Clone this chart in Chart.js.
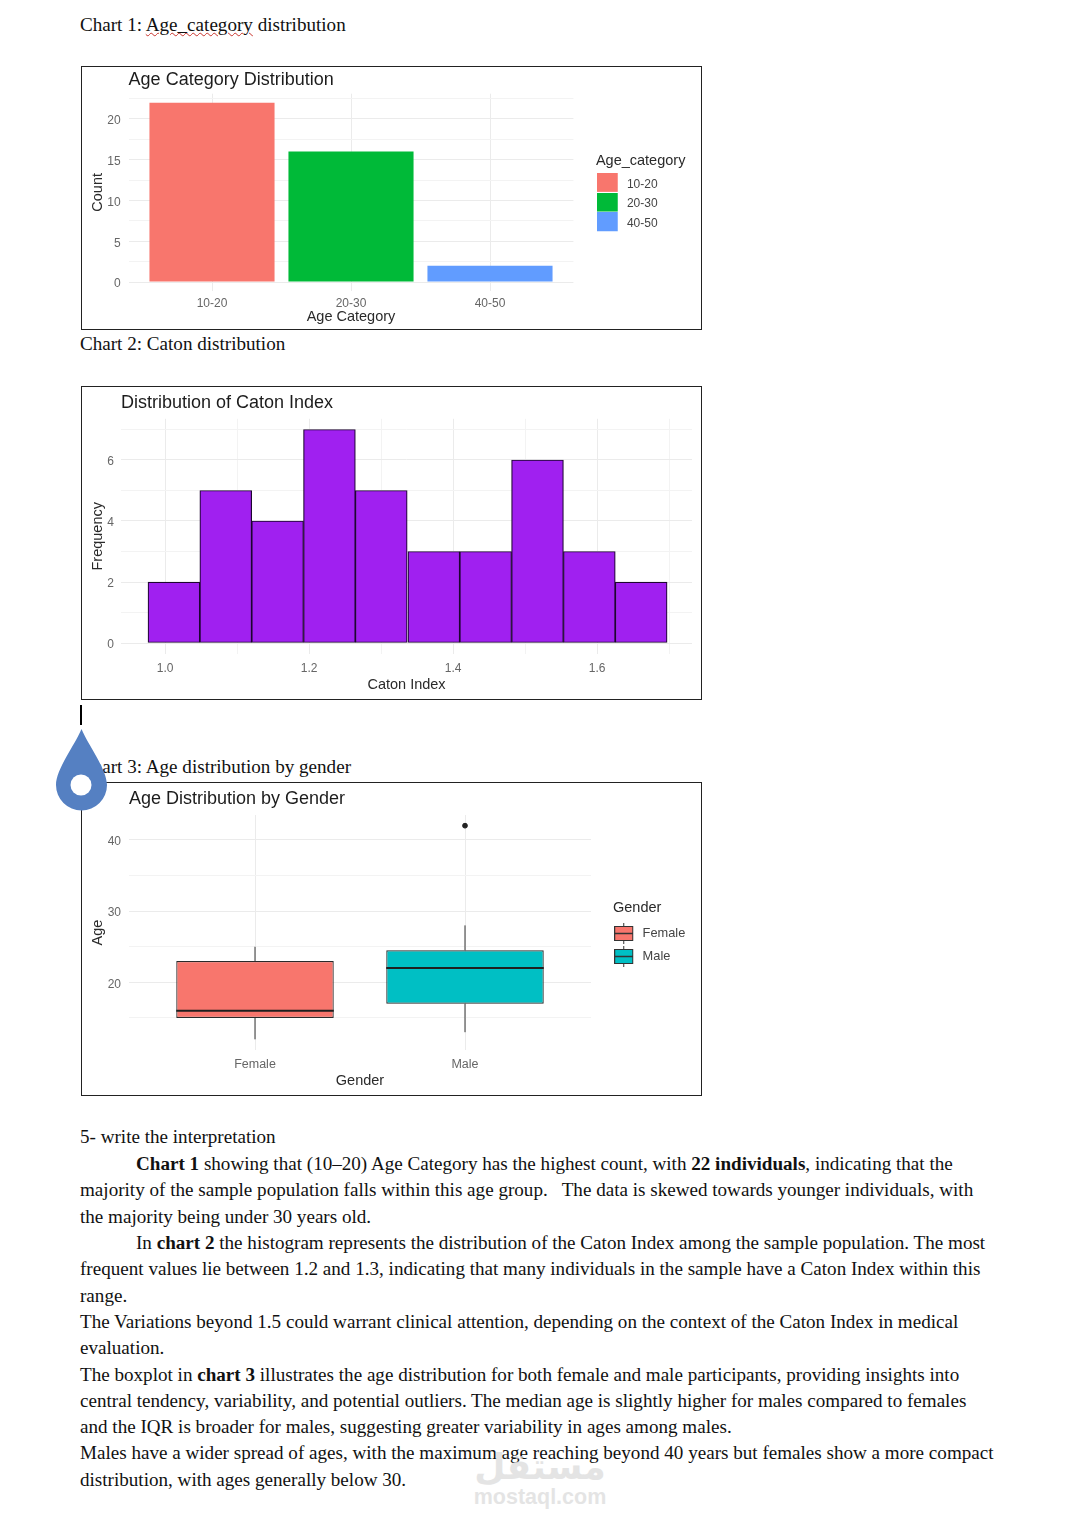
<!DOCTYPE html>
<html><head><meta charset="utf-8">
<script src="https://cdn.jsdelivr.net/npm/chart.js@4"></script>
<style>
html,body{margin:0;padding:0;background:#fff;width:1080px;height:1539px;overflow:hidden}
.l{position:absolute;white-space:nowrap;font:19.1px/22px "Liberation Serif",serif;color:#111;transform:translateY(-50%)}
.box{position:absolute;left:81px;width:619px;border:1px solid #222}
canvas{position:absolute;left:81px}
.wm{position:absolute;color:#dcdcdc;opacity:.75;white-space:nowrap;transform:translate(-50%,-50%);font-weight:bold}
</style></head><body>
<div class="l" style="left:80px;top:25px">Chart 1: <span style="text-decoration:underline wavy #c8332c 1.4px;text-underline-offset:1px">Age_category</span> distribution</div>
<div class="box" style="top:66px;height:262px"></div><canvas id="c1" width="621" height="264" style="top:66px"></canvas>
<div class="l" style="left:80px;top:344px">Chart 2: Caton distribution</div>
<div class="box" style="top:386px;height:312px"></div><canvas id="c2" width="621" height="314" style="top:386px"></canvas>
<div style="position:absolute;left:80px;top:705px;width:2px;height:20px;background:#000"></div>
<div class="l" style="left:80px;top:767px">Chart 3: Age distribution by gender</div>
<div class="box" style="top:782px;height:312px"></div><canvas id="c3" width="621" height="314" style="top:782px"></canvas>
<svg style="position:absolute;left:56px;top:729px" width="52" height="82" viewBox="0 0 52 82"><path d="M25.5 0 C32 16 51 40 51 56 A25.5 25.5 0 0 1 0 56 C0 40 19 16 25.5 0Z" fill="#5580c2"/><circle cx="25" cy="56" r="10.5" fill="#fff"/></svg>
<div id="text"></div>
<div class="wm" style="left:540px;top:1466px;font:bold 36px 'DejaVu Sans'">مستقل</div>
<div class="wm" style="left:540px;top:1497px;font:bold 21.5px 'Liberation Sans'">mostaql.com</div>
<script>
// ---------- data ----------
const ageCategories = ['10-20','20-30','40-50'];
const ageCounts = [22,16,2];
const ageColors = ['#F8766D','#00BA38','#619CFF'];
const ageYTicks = [0,2.5,5,7.5,10,12.5,15,17.5,20,22.5];
const ageYLabels = [0,5,10,15,20];

const catonCenters = [1.011,1.083,1.155,1.227,1.299,1.372,1.444,1.516,1.588,1.660];
const catonFreq = [2,5,4,7,5,3,3,6,3,2];
const catonXTicks = [1.0,1.1,1.2,1.3,1.4,1.5,1.6,1.7];
const catonXLabels = [1.0,1.2,1.4,1.6];
const catonYTicks = [0,1,2,3,4,5,6,7];
const catonYLabels = [0,2,4,6];

const genders = ['Female','Male'];
const genderColors = ['#F8766D','#00BFC4'];
const whiskerLow = [12,13];
const q1 = [15,17];
const median = [16,22];
const q3 = [23,24.5];
const whiskerHigh = [25,28];
const outlierGender = [2];
const outlierAge = [42];
const boxYTicks = [15,20,25,30,35,40];
const boxYLabels = [20,30,40];

const bodyLines = [
 [80,1137,'5- write the interpretation'],
 [136,1164,'<b>Chart 1</b> showing that (10–20) Age Category has the highest count, with <b>22 individuals</b>, indicating that the'],
 [80,1190,'majority of the sample population falls within this age group.&nbsp;&nbsp; The data is skewed towards younger individuals, with'],
 [80,1217,'the majority being under 30 years old.'],
 [136,1243,'In <b>chart 2</b> the histogram represents the distribution of the Caton Index among the sample population. The most'],
 [80,1269,'frequent values lie between 1.2 and 1.3, indicating that many individuals in the sample have a Caton Index within this'],
 [80,1296,'range.'],
 [80,1322,'The Variations beyond 1.5 could warrant clinical attention, depending on the context of the Caton Index in medical'],
 [80,1348,'evaluation.'],
 [80,1375,'The boxplot in <b>chart 3</b> illustrates the age distribution for both female and male participants, providing insights into'],
 [80,1401,'central tendency, variability, and potential outliers. The median age is slightly higher for males compared to females'],
 [80,1427,'and the IQR is broader for males, suggesting greater variability in ages among males.'],
 [80,1453,'Males have a wider spread of ages, with the maximum age reaching beyond 40 years but females show a more compact'],
 [80,1480,'distribution, with ages generally below 30.']
];
// ---------- page text ----------
document.getElementById('text').innerHTML = bodyLines.map(l=>`<div class="l" style="left:${l[0]}px;top:${l[1]}px">${l[2]}</div>`).join('');

// ---------- chart helpers ----------
Chart.defaults.font.family = '"Liberation Sans", Arial, sans-serif';
Chart.defaults.animation = false;
const MAJOR='#ebebeb', MINOR='#f3f3f3', TICK='#666', INK='#2a2a2a';

function axis(o){
  return {
    type:'linear', min:o.min, max:o.max, offset:false,
    border:{display:false},
    grid:{offset:false, drawTicks:false, tickLength:0,
      color:c=>o.labels.includes(c.tick&&c.tick.value)?MAJOR:MINOR,
      lineWidth:1},
    ticks:{autoSkip:false, maxRotation:0, minRotation:0, padding:o.pad, color:TICK, font:{size:o.fs||12},
      labelOffset:o.lo||0, callback:o.fmt},
    afterBuildTicks:s=>{s.ticks=o.ticks.map(v=>({value:v}));},
    afterFit:s=>{ if(o.size.w) s.width=o.size.w; if(o.size.h) s.height=o.size.h; },
    title:{display:true,text:o.title,color:INK,font:{size:14.5},padding:o.titlePad}
  };
}
function legendShift(gutter,gap){
  return {
    id:'legendPlace',
    beforeLayout(ch){
      const l=ch.legend;
      if(l&&!l.__p){const f=l.fit; l.fit=function(){f.call(this); this.width=gutter;}; l.__p=true;}
    },
    afterLayout(ch){
      const l=ch.legend; if(!l) return;
      l.left=ch.chartArea.right+gap; l.right=l.left+gutter;
    }
  };
}
function swatch(w,h,drawFn){
  const c=document.createElement('canvas'); c.width=w; c.height=h;
  drawFn(c.getContext('2d')); return c;
}
function title(text,size,top,bottom){
  return {display:true,text,align:'start',fullSize:false,color:'#1c1c1c',
    font:{size,weight:'normal'},padding:{top,bottom}};
}

// ---------- chart 1 ----------
new Chart(document.getElementById('c1'),{
  type:'bar',
  data:{datasets:[{data:ageCounts.map((v,i)=>({x:i+1,y:v})),backgroundColor:ageColors,
    barPercentage:.9,categoryPercentage:1}]},
  plugins:[legendShift(128.6,22.5)],
  options:{responsive:false,devicePixelRatio:1,
    layout:{padding:0},
    plugins:{
      tooltip:{enabled:false},
      title:title('Age Category Distribution',18,3.2,2.9),
      legend:{position:'right',fullSize:false,align:'center',
        title:{display:true,text:'Age_category',position:'start',color:INK,font:{size:14.5},padding:{top:6,bottom:0}},
        labels:{color:'#444',font:{size:12},padding:7.7,usePointStyle:true,pointStyleWidth:17.3,
          generateLabels:()=>ageCategories.map((t,i)=>({text:t,fontColor:'#444',datasetIndex:0,index:i,
            pointStyle:swatch(31,23,g=>{g.fillStyle=ageColors[i];g.fillRect(0,0,21,19);})}))}}
    },
    scales:{
      x:axis({min:.4,max:3.6,ticks:[1,2,3],labels:[1,2,3],pad:5,fmt:v=>ageCategories[v-1],
        size:{h:39},title:'Age Category',titlePad:{top:0,bottom:4.3}}),
      y:axis({min:-1.1,max:23.1,ticks:ageYTicks,labels:ageYLabels,pad:8,lo:2,fmt:v=>ageYLabels.includes(v)?v:'',
        size:{w:47.6},title:'Count',titlePad:{top:8.6,bottom:0}})
    }
  }
});

// ---------- chart 2 ----------
new Chart(document.getElementById('c2'),{
  type:'bar',
  data:{datasets:[{data:catonCenters.map((x,i)=>({x,y:catonFreq[i]})),backgroundColor:'#A020F0',
    borderColor:'#1d0530',borderWidth:1.2,borderSkipped:false,barPercentage:1,categoryPercentage:1}]},
  options:{responsive:false,devicePixelRatio:1,
    layout:{padding:{right:10}},
    plugins:{tooltip:{enabled:false},legend:{display:false},
      title:title('Distribution of Caton Index',18,6.2,5)},
    scales:{
      x:axis({min:.9375,max:1.7306,ticks:catonXTicks,labels:catonXLabels,pad:8,lo:-.8,
        fmt:v=>catonXLabels.includes(v)?v.toFixed(1):'',
        size:{h:46.3},title:'Caton Index',titlePad:{top:0,bottom:6.3}}),
      y:axis({min:-.35,max:7.35,ticks:catonYTicks,labels:catonYLabels,pad:7,lo:2,fmt:v=>catonYLabels.includes(v)?v:'',
        size:{w:40},title:'Frequency',titlePad:{top:8.6,bottom:0}})
    }
  }
});

// ---------- chart 3 ----------
function medianSet(i){
  return {type:'scatter',showLine:true,pointRadius:0,borderColor:'#1f1f1f',borderWidth:2,order:0,
    data:[{x:i+1-.375,y:median[i]},{x:i+1+.375,y:median[i]}]};
}
function whiskerSet(i){
  return {type:'scatter',showLine:true,spanGaps:false,pointRadius:0,borderColor:'#333',borderWidth:1,order:2,
    data:[{x:i+1,y:whiskerLow[i]},{x:i+1,y:q1[i]},{x:i+1,y:null},{x:i+1,y:q3[i]},{x:i+1,y:whiskerHigh[i]}]};
}
function keyGlyph(i){
  return swatch(31,21,g=>{
    g.strokeStyle='#333';g.lineWidth=1;
    g.beginPath();g.moveTo(9.5,0);g.lineTo(9.5,21);g.stroke();
    g.fillStyle=genderColors[i];g.fillRect(.5,3.5,18,14);g.strokeRect(.5,3.5,18,14);
    g.lineWidth=1.5;g.beginPath();g.moveTo(.5,10.5);g.lineTo(18.5,10.5);g.stroke();
  });
}
new Chart(document.getElementById('c3'),{
  type:'bar',
  data:{datasets:[
    whiskerSet(0),whiskerSet(1),
    {type:'bar',order:1,data:genders.map((g,i)=>({x:i+1,y:[q1[i],q3[i]]})),backgroundColor:genderColors,
      borderColor:'#2a2a2a',borderWidth:1.2,borderSkipped:false,barPercentage:.75,categoryPercentage:1},
    medianSet(0),medianSet(1),
    {type:'scatter',order:0,data:outlierGender.map((x,i)=>({x,y:outlierAge[i]})),pointRadius:2.4,
      backgroundColor:'#222',borderColor:'#222'}
  ]},
  plugins:[legendShift(111,22)],
  options:{responsive:false,devicePixelRatio:1,
    layout:{padding:0},
    plugins:{
      tooltip:{enabled:false},
      title:title('Age Distribution by Gender',18,6.2,5.2),
      legend:{position:'right',fullSize:false,align:'center',
        title:{display:true,text:'Gender',position:'start',color:INK,font:{size:14.5},padding:{top:8.5,bottom:-1}},
        labels:{color:'#444',font:{size:12.8},padding:10.2,usePointStyle:true,pointStyleWidth:13,
          generateLabels:()=>genders.map((t,i)=>({text:t,fontColor:'#444',datasetIndex:2,index:i,
            pointStyle:keyGlyph(i)}))}}
    },
    scales:{
      x:axis({min:.4,max:2.6,ticks:[1,2],labels:[1,2],pad:7,fs:12.5,fmt:v=>genders[v-1],
        size:{h:46},title:'Gender',titlePad:{top:0,bottom:6.3}}),
      y:axis({min:10.5,max:43.5,ticks:boxYTicks,labels:boxYLabels,pad:8,lo:2,fmt:v=>boxYLabels.includes(v)?v:'',
        size:{w:48},title:'Age',titlePad:{top:8.6,bottom:0}})
    }
  }
});
</script>
</body></html>
